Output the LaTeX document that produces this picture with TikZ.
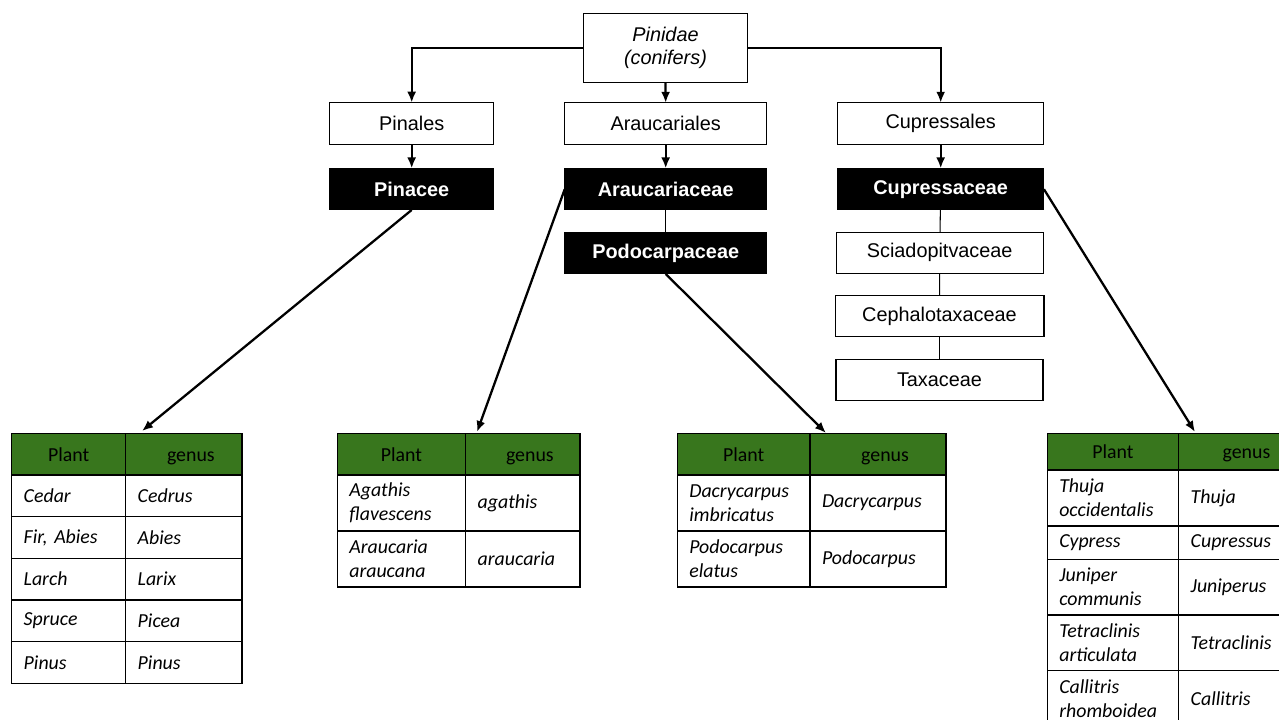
\documentclass[tikz,border=0pt]{standalone}
\usepackage{fontspec}
\usetikzlibrary{arrows.meta}
\newfontfamily\boxfont{Liberation Sans}
\newfontfamily\tabfont{Carlito}
\definecolor{leafgreen}{RGB}{56,118,29}
\newcommand*{\hdrY}{433.3}
\newcommand*{\rowY}{475}

\begin{document}
\begin{tikzpicture}[x=0.02cm,y=-0.02cm,
	box/.style={draw, line width=0.6pt, fill=white, inner sep=0pt, outer sep=0pt, minimum height=0.83cm, font=\boxfont\fontsize{11.3}{13}\selectfont},
	famblk/.style={box, fill=black, text=white, font=\boxfont\bfseries\fontsize{11.3}{13}\selectfont},
	arr/.style={line width=1.3pt, -{Latex[length=2.2mm,width=1.8mm]}},
	link/.style={line width=0.6pt},
	hcell/.style={draw, line width=0.7pt, fill=leafgreen, anchor=north west, inner sep=0pt, outer sep=0pt, minimum height=0.834cm, text height=9.3pt, text depth=1pt, font=\tabfont\fontsize{11.3}{13.6}\selectfont},
	cell/.style={draw, line width=0.7pt, anchor=north west, inner xsep=0.24cm, inner ysep=0pt, outer sep=0pt, align=left, font=\tabfont\itshape\fontsize{11.3}{13.6}\selectfont}]
	\useasboundingbox (0,0) rectangle (1279,720);
	\clip (0,0) rectangle (1279,720);
	
	% orders
	\node[box, minimum width=3.28cm, minimum height=1.38cm, align=center, font=\boxfont\itshape\fontsize{11.3}{13}\selectfont] (pinidae) at (665.5,48) {Pinidae\\(conifers)};
	\node[box, minimum width=3.29cm] (pinales) at (411.7,123.4) {Pinales};
	\node[box, minimum width=4.04cm] (araucariales) at (665.7,123.6) {Araucariales};
	\node[box, minimum width=4.13cm] (cupressales) at (940.7,123.5) {Cupressales};
	
	% families
	\node[famblk, minimum width=3.29cm] (pinacee) at (411.7,189.2) {Pinacee};
	\node[famblk, minimum width=4.04cm] (araucariaceae) at (665.7,189.2) {Araucariaceae};
	\node[famblk, minimum width=4.13cm] (cupressaceae) at (940.7,189.2) {Cupressaceae};
	\node[famblk, minimum width=4.04cm] (podocarpaceae) at (665.7,253.2) {Podocarpaceae};
	\node[box, minimum width=4.14cm, minimum height=0.82cm] (sciadopitvaceae) at (939.7,252.8) {Sciadopitvaceae};
	\node[box, minimum width=4.18cm, minimum height=0.82cm] (cephalotaxaceae) at (939.5,316.3) {Cephalotaxaceae};
	\node[box, minimum width=4.14cm, minimum height=0.82cm] (taxaceae) at (939.5,379.7) {Taxaceae};
	
	\draw[arr] (pinidae.west) -| (pinales.north);
	\draw[arr] (pinidae.east) -| (cupressales.north);
	\draw[arr] (pinidae.south) -- (araucariales.north);
	\draw[arr] (pinales) -- (pinacee);
	\draw[arr] (araucariales) -- (araucariaceae);
	\draw[arr] (cupressales) -- (cupressaceae);
	
	\draw[link] (araucariaceae) -- (podocarpaceae);
	\draw[link] (cupressaceae) -- (sciadopitvaceae);
	\draw[link] (sciadopitvaceae) -- (cephalotaxaceae);
	\draw[link] (cephalotaxaceae) -- (taxaceae);
	
	% Pinacee table
	\node[hcell, minimum width=2.28cm] (pinHP) at (11.7,\hdrY) {Plant};
	\node[hcell, minimum width=2.326cm] (pinHG) at (125.7,\hdrY) {\hspace{8pt}genus};
	\foreach \i/\y/\p/\g in {1/475/Cedar/Cedrus, 2/516.7/{Fir,\ Abies}/Abies, 3/558.3/Larch/Larix, 4/600/Spruce/Picea, 5/641.7/Pinus/Pinus} {
		\node[cell, text width=1.8cm, minimum height=0.834cm] (pinP\i) at (11.7,\y) {\p};
		\node[cell, text width=1.846cm, minimum height=0.834cm] (pinG\i) at (125.7,\y) {\g};
	}
	
	% Araucariaceae table
	\node[hcell, minimum width=2.568cm] (arauHP) at (337.3,\hdrY) {Plant};
	\node[hcell, minimum width=2.286cm] (arauHG) at (465.7,\hdrY) {\hspace{8pt}genus};
	\foreach \i/\y/\p/\g in {1/475/{Agathis\\flavescens}/agathis, 2/531/{Araucaria\\araucana}/araucaria} {
		\node[cell, text width=2.088cm, minimum height=1.12cm] (arauP\i) at (337.3,\y) {\p};
		\node[cell, text width=1.806cm, minimum height=1.12cm] (arauG\i) at (465.7,\y) {\g};
	}
	
	% Podocarpaceae table
	\node[hcell, minimum width=2.654cm] (podoHP) at (677.3,\hdrY) {Plant};
	\node[hcell, minimum width=2.72cm] (podoHG) at (810,\hdrY) {\hspace{8pt}genus};
	\foreach \i/\y/\p/\g in {1/475/{Dacrycarpus\\imbricatus}/Dacrycarpus, 2/531/{Podocarpus\\elatus}/Podocarpus} {
		\node[cell, text width=2.174cm, minimum height=1.12cm] (podoP\i) at (677.3,\y) {\p};
		\node[cell, text width=2.24cm, minimum height=1.12cm] (podoG\i) at (810,\y) {\g};
	}
	
	% Cupressaceae table
	\node[hcell, minimum width=2.628cm, minimum height=0.734cm] (cuprHP) at (1047.3,\hdrY) {Plant};
	\node[hcell, minimum width=2.43cm, minimum height=0.734cm] (cuprHG) at (1178.7,\hdrY) {\hspace{8pt}genus};
	\foreach \i/\y/\h/\p/\g in {1/470/1.12/{Thuja\\occidentalis}/Thuja, 2/526/0.666/Cypress/Cupressus, 3/559.3/1.114/{Juniper\\communis}/Juniperus, 4/615/1.114/{Tetraclinis\\articulata}/Tetraclinis, 5/670.7/1.12/{Callitris\\rhomboidea}/Callitris} {
		\node[cell, text width=2.148cm, minimum height=\h cm] (cuprP\i) at (1047.3,\y) {\p};
		\node[cell, text width=1.95cm, minimum height=\h cm] (cuprG\i) at (1178.7,\y) {\g};
	}
	
	% arrows down to the tables
	\coordinate (pinTip) at (142,431);
	\coordinate (arauTip) at (477,432);
	\coordinate (podoTip) at (826,433);
	\coordinate (cuprTip) at (1195,432);
	\draw[arr] (pinacee.south) -- (pinTip);
	\draw[arr] (araucariaceae.west) -- (arauTip);
	\draw[arr] (podocarpaceae.south) -- (podoTip);
	\draw[arr] (cupressaceae.east) -- (cuprTip);
\end{tikzpicture}
\end{document}
